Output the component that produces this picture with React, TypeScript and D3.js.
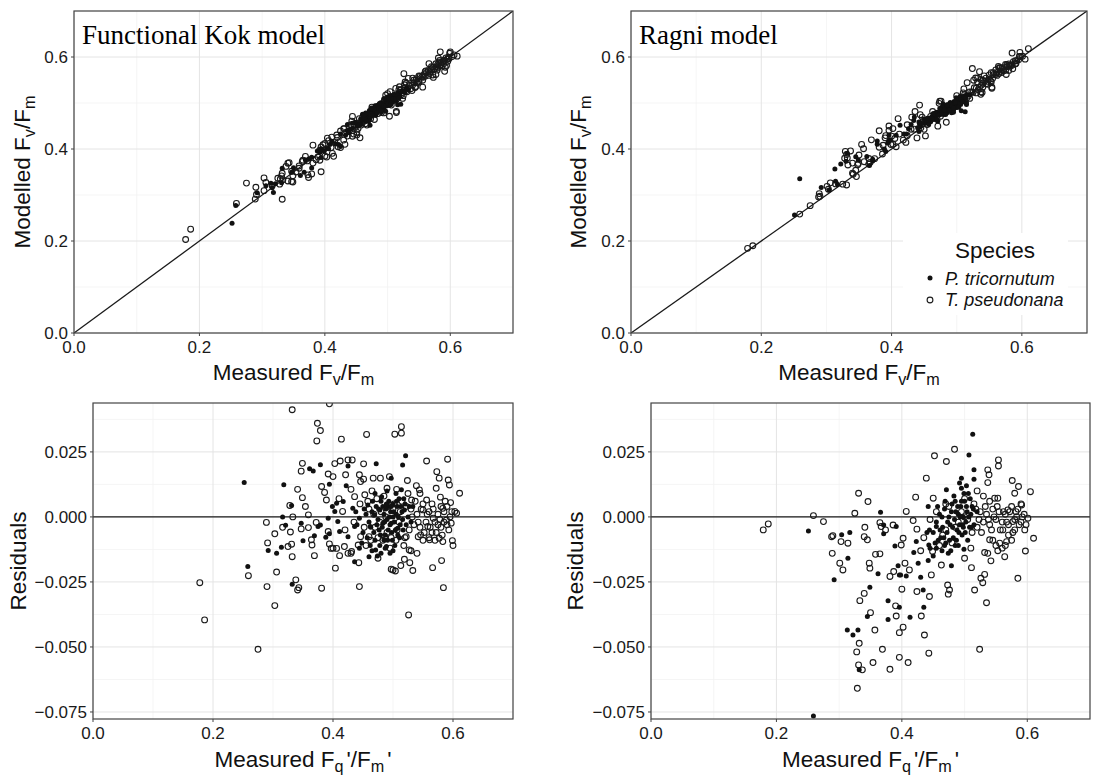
import React from "react";
import * as d3 from "d3";

// ---- Data: [measured Fv/Fm (or Fq'/Fm'), residual (measured - modelled)] ----
const kokPtri: [number, number][] = [
  [0.252,0.0132],[0.258,-0.0191],[0.292,-0.0129],[0.306,-0.014],[0.318,0.0124],[0.316,0.0],[0.314,-0.0117],[0.321,-0.0032],
  [0.331,0.0044],[0.332,-0.0259],[0.347,-0.0024],[0.35,-0.0092],[0.361,0.0185],[0.367,0.0177],[0.369,-0.0072],[0.379,0.0201],
  [0.375,-0.0037],[0.379,-0.0031],[0.394,0.0126],[0.392,-0.0005],[0.388,-0.0078],[0.394,-0.0065],[0.399,0.004],[0.403,0.0021],
  [0.406,0.0053],[0.408,-0.0018],[0.411,-0.0056],[0.417,0.0059],[0.422,0.012],[0.425,0.0196],[0.425,-0.0076],[0.433,0.0033],
  [0.436,-0.0037],[0.436,-0.0172],[0.444,-0.0005],[0.458,0.0046],[0.46,-0.0153],[0.462,-0.0037],[0.472,0.0204],[0.469,0.0008],
  [0.471,-0.0127],[0.477,-0.005],[0.478,0.0027],[0.481,0.0078],[0.483,-0.0024],[0.489,-0.0114],[0.492,0.004],[0.497,0.0149],
  [0.497,-0.0024],[0.5,0.0],[0.508,-0.0044],[0.516,0.02],[0.521,0.0235],[0.514,0.0104],[0.519,0.0027],[0.533,0.004],
  [0.46,-0.002],[0.465,0.002],[0.468,-0.006],[0.47,-0.009],[0.472,0.004],[0.475,-0.001],[0.478,-0.011],[0.48,0.006],
  [0.482,-0.004],[0.485,0.001],[0.487,-0.007],[0.488,0.003],[0.49,-0.001],[0.491,-0.009],[0.493,0.006],[0.495,-0.003],
  [0.496,0.002],[0.498,-0.006],[0.5,0.005],[0.502,-0.002],[0.503,-0.011],[0.505,0.001],[0.507,0.004],[0.508,-0.007],
  [0.51,0.007],[0.512,-0.003],[0.515,0.002],[0.517,-0.005],[0.52,0.005],[0.525,0.0],[0.45,-0.006],[0.455,0.001],
  [0.448,-0.01],[0.44,-0.003],[0.465,-0.013],[0.48,-0.014],[0.47,0.009],[0.49,0.01],[0.5,-0.013],[0.485,-0.009],
  [0.452,0.003],[0.457,-0.008],[0.463,-0.004],[0.466,0.006],[0.473,-0.003],[0.476,0.003],[0.479,-0.007],[0.483,0.004],
  [0.486,-0.002],[0.489,0.005],[0.492,-0.005],[0.494,0.0],[0.497,0.004],[0.499,-0.009],[0.501,0.002],[0.504,-0.005],
  [0.506,0.006],[0.509,0.0],[0.511,-0.008],[0.513,0.004],[0.516,-0.001],[0.518,0.007],[0.522,-0.003],[0.527,0.004],
  [0.53,-0.002],[0.462,-0.011],[0.474,-0.015],[0.487,-0.012],[0.495,-0.014],[0.505,0.009],[0.444,-0.012],[0.438,0.002],
];

const kokTpse: [number, number][] = [
  [0.178,-0.0253],[0.186,-0.0396],[0.275,-0.0509],[0.259,-0.0226],[0.289,-0.0021],[0.291,-0.01],[0.29,-0.0268],[0.303,-0.0065],
  [0.306,-0.0212],[0.303,-0.0341],[0.316,-0.004],[0.325,-0.0114],[0.328,0.0044],[0.329,-0.0058],[0.331,-0.0105],[0.332,-0.0153],
  [0.333,0.0],[0.332,0.0412],[0.338,-0.0242],[0.341,-0.0281],[0.343,-0.0272],[0.341,0.0106],[0.347,0.0176],[0.349,0.0206],
  [0.349,0.0074],[0.347,-0.0046],[0.354,0.004],[0.359,-0.0041],[0.359,0.0008],[0.364,-0.0088],[0.365,-0.0108],[0.369,-0.0149],
  [0.372,-0.0021],[0.373,0.0292],[0.374,0.036],[0.379,0.0332],[0.381,0.0117],[0.381,-0.0274],[0.386,0.0094],[0.389,0.0065],
  [0.392,0.0165],[0.392,-0.0056],[0.394,-0.0104],[0.397,-0.0121],[0.394,0.0435],[0.4,0.0155],[0.403,0.0205],[0.404,-0.0197],
  [0.406,-0.0121],[0.411,-0.0149],[0.412,0.0215],[0.414,0.0299],[0.416,0.0021],[0.419,-0.0114],[0.421,0.0162],[0.425,0.0219],
  [0.43,0.0106],[0.432,0.0219],[0.425,-0.014],[0.431,-0.0133],[0.436,0.0078],[0.443,-0.0176],[0.444,-0.0268],[0.444,0.0162],
  [0.446,0.0136],[0.442,-0.0108],[0.446,-0.0076],[0.451,0.0204],[0.451,0.0145],[0.453,0.0085],[0.456,0.0317],[0.46,-0.0076],
  [0.467,0.0149],[0.475,-0.0159],[0.479,0.0149],[0.486,-0.0076],[0.49,0.011],[0.494,0.0155],[0.497,-0.0201],[0.5,-0.0204],
  [0.504,-0.0208],[0.503,0.0318],[0.506,0.0106],[0.514,0.0347],[0.514,0.0322],[0.513,-0.0187],[0.519,-0.0163],[0.522,-0.0076],
  [0.524,0.014],[0.526,-0.0377],[0.528,-0.0176],[0.527,-0.0127],[0.533,-0.0206],[0.531,0.0065],[0.539,0.012],[0.542,-0.0076],
  [0.546,-0.0069],[0.544,0.0104],[0.55,0.0027],[0.556,0.0215],[0.556,0.0065],[0.558,-0.0037],[0.561,-0.0088],[0.566,-0.0195],
  [0.567,-0.0005],[0.572,0.011],[0.573,0.0174],[0.577,0.0149],[0.579,0.0076],[0.577,-0.0082],[0.581,-0.0168],[0.584,-0.0272],
  [0.583,-0.0095],[0.591,0.0222],[0.592,0.0142],[0.594,0.0123],[0.589,-0.0012],[0.597,-0.0024],[0.599,-0.0091],[0.6,-0.011],
  [0.603,0.0021],[0.606,0.0014],[0.611,0.0091],[0.596,0.0055],[0.583,0.0033],
  [0.46,0.003],[0.47,-0.004],[0.48,0.002],[0.49,-0.006],[0.5,0.003],[0.51,-0.002],[0.52,-0.008],[0.53,0.003],
  [0.535,-0.003],[0.54,0.001],[0.545,-0.004],[0.55,0.005],[0.555,-0.002],[0.56,0.002],[0.565,-0.006],[0.57,-0.002],
  [0.575,0.001],[0.58,-0.004],[0.585,0.002],[0.59,-0.003],[0.595,0.0],[0.545,0.009],[0.55,-0.009],[0.56,-0.008],
  [0.57,-0.009],[0.575,-0.003],[0.58,0.004],[0.565,0.005],[0.525,0.009],[0.515,0.006],[0.505,-0.009],[0.495,-0.012],
  [0.485,0.008],[0.475,-0.008],[0.465,0.01],[0.455,-0.011],[0.445,0.005],[0.435,-0.002],[0.43,-0.014],[0.42,-0.005],
  [0.41,0.007],[0.4,-0.012],[0.53,-0.013],[0.54,-0.014],[0.585,-0.002],[0.59,0.004],
  [0.452,-0.004],[0.458,0.006],[0.463,-0.009],[0.468,0.001],[0.473,0.007],[0.478,-0.002],[0.483,-0.009],[0.488,0.0],
  [0.492,0.004],[0.497,-0.008],[0.502,0.005],[0.507,-0.005],[0.512,0.002],[0.518,-0.011],[0.522,0.004],[0.527,-0.005],
  [0.532,0.0],[0.537,0.006],[0.542,-0.002],[0.547,0.003],[0.552,-0.006],[0.557,0.001],[0.562,-0.004],[0.567,0.003],
  [0.572,-0.006],[0.578,-0.001],[0.582,-0.007],[0.587,0.006],[0.593,-0.005],[0.598,0.002],
];

const ragniPtri: [number, number][] = [
  [0.251,-0.0054],[0.259,-0.0765],[0.292,-0.0242],[0.304,-0.0069],[0.317,-0.006],[0.314,-0.0159],[0.313,-0.0435],[0.322,-0.0454],
  [0.33,-0.0435],[0.332,-0.0588],[0.349,-0.027],[0.345,-0.0383],[0.362,-0.0219],[0.366,0.0018],[0.371,-0.0031],[0.371,-0.0065],
  [0.378,-0.0394],[0.378,-0.0322],[0.389,-0.0112],[0.391,-0.0037],[0.394,-0.0188],[0.396,-0.0223],[0.398,-0.0223],[0.396,-0.0347],
  [0.407,-0.0227],[0.413,-0.0386],[0.419,-0.0137],[0.423,-0.0095],[0.426,-0.0178],[0.43,-0.0232],[0.434,-0.0281],[0.435,-0.0347],
  [0.442,0.004],[0.444,-0.005],[0.443,-0.0108],[0.442,-0.0168],[0.455,-0.0037],[0.471,0.0104],[0.479,-0.0188],[0.492,0.013],
  [0.495,0.0149],[0.499,-0.0124],[0.507,0.0238],[0.513,0.0318],[0.515,0.0181],[0.515,0.0145],
  [0.45,-0.006],[0.455,-0.002],[0.46,0.001],[0.462,-0.008],[0.465,-0.004],[0.468,0.003],[0.47,-0.01],[0.472,-0.006],
  [0.475,0.0],[0.477,-0.003],[0.48,0.005],[0.482,-0.008],[0.484,-0.001],[0.486,0.002],[0.488,-0.005],[0.49,-0.011],
  [0.49,0.001],[0.492,-0.003],[0.494,0.004],[0.496,-0.007],[0.498,0.0],[0.5,0.006],[0.502,-0.002],[0.504,0.002],
  [0.506,0.009],[0.508,-0.004],[0.51,0.001],[0.512,0.004],[0.478,-0.013],[0.468,-0.011],[0.458,-0.009],[0.45,-0.015],
  [0.44,-0.006],[0.445,-0.012],[0.485,0.006],[0.495,0.011],[0.505,-0.009],[0.52,0.002],[0.515,-0.003],
  [0.453,-0.01],[0.457,0.004],[0.461,-0.005],[0.464,0.0],[0.467,-0.008],[0.469,0.006],[0.473,-0.002],[0.476,-0.009],
  [0.479,0.002],[0.481,-0.004],[0.483,0.008],[0.487,-0.009],[0.489,0.004],[0.491,-0.006],[0.493,0.0],[0.497,-0.003],
  [0.499,0.009],[0.501,-0.006],[0.503,0.004],[0.507,0.0],[0.509,0.007],[0.511,-0.004],[0.514,0.003],[0.474,-0.014],
  [0.464,-0.013],[0.455,-0.012],[0.485,-0.011],[0.495,0.006],[0.503,0.012],[0.498,-0.004],
];

const ragniTpse: [number, number][] = [
  [0.179,-0.005],[0.187,-0.0027],[0.259,0.0005],[0.275,-0.0018],[0.288,-0.0076],[0.29,-0.0072],[0.289,-0.014],[0.301,-0.0178],
  [0.306,-0.0204],[0.303,-0.0095],[0.314,-0.0101],[0.325,0.0014],[0.331,0.0091],[0.332,-0.0486],[0.328,-0.0519],[0.331,-0.0569],
  [0.337,-0.0588],[0.329,-0.0659],[0.333,-0.0322],[0.346,0.0059],[0.341,-0.004],[0.34,-0.0076],[0.345,-0.0088],[0.348,-0.0178],
  [0.349,-0.0197],[0.34,-0.0294],[0.35,-0.0368],[0.354,-0.056],[0.357,-0.0435],[0.358,-0.0144],[0.365,-0.0142],[0.365,-0.0022],
  [0.367,-0.0037],[0.374,-0.005],[0.369,-0.0509],[0.381,-0.0586],[0.381,-0.0229],[0.387,-0.021],[0.386,-0.0031],[0.391,-0.0381],
  [0.39,-0.0342],[0.396,-0.0445],[0.396,-0.054],[0.402,-0.0424],[0.4,-0.0278],[0.402,-0.0082],[0.399,-0.0108],[0.405,-0.0178],
  [0.407,0.0021],[0.41,-0.056],[0.412,-0.0204],[0.418,-0.0014],[0.422,0.0076],[0.424,-0.0047],[0.424,-0.0287],[0.431,-0.0381],
  [0.436,-0.0454],[0.439,0.0149],[0.443,-0.0524],[0.444,-0.0306],[0.447,-0.0223],[0.452,0.0235],[0.45,0.0072],[0.449,-0.0133],
  [0.463,-0.0185],[0.471,0.0213],[0.473,-0.0262],[0.474,-0.0297],[0.476,-0.0281],[0.484,0.026],[0.5,-0.0159],[0.511,-0.0195],
  [0.516,-0.0281],[0.524,-0.0509],[0.526,-0.0236],[0.529,-0.0253],[0.532,-0.0221],[0.535,-0.033],[0.532,-0.0137],[0.537,-0.014],
  [0.537,0.0181],[0.539,0.0162],[0.537,0.0132],[0.542,-0.0169],[0.54,-0.0088],[0.554,0.0219],[0.554,0.0196],[0.553,0.0072],
  [0.556,-0.0101],[0.564,-0.0153],[0.567,-0.0095],[0.576,0.014],[0.58,0.0091],[0.586,0.0117],[0.585,-0.0236],[0.591,0.0046],
  [0.597,-0.0131],[0.605,0.0097],[0.61,-0.0082],[0.601,-0.0005],[0.596,-0.005],[0.577,-0.0018],[0.583,0.0001],[0.569,0.0027],
  [0.561,-0.005],[0.548,0.0072],
  [0.455,0.002],[0.465,-0.007],[0.475,0.004],[0.485,-0.004],[0.495,0.002],[0.505,-0.001],[0.515,0.005],[0.52,-0.004],
  [0.525,0.002],[0.53,-0.002],[0.535,0.001],[0.54,-0.003],[0.545,0.003],[0.55,-0.001],[0.555,0.002],[0.56,-0.002],
  [0.565,0.001],[0.57,-0.003],[0.575,0.004],[0.58,-0.001],[0.585,0.003],[0.59,-0.002],[0.595,0.001],[0.55,-0.011],
  [0.56,-0.012],[0.545,-0.009],[0.57,-0.007],[0.58,-0.005],[0.59,0.005],[0.53,0.008],[0.52,0.01],[0.51,-0.012],
  [0.5,0.007],[0.48,-0.01],[0.47,0.005],[0.46,-0.011],[0.445,-0.001],[0.435,-0.008],[0.43,-0.013],
  [0.5,0.0],[0.512,-0.006],[0.518,0.003],[0.523,-0.001],[0.527,-0.006],[0.533,0.004],[0.538,-0.001],[0.543,-0.005],
  [0.547,0.0],[0.552,0.004],[0.557,-0.005],[0.562,0.002],[0.567,-0.002],[0.572,0.002],[0.577,-0.006],[0.582,0.002],
  [0.587,-0.003],[0.592,0.0],[0.598,-0.003],[0.575,-0.009],[0.565,-0.011],[0.553,-0.013],[0.54,0.006],[0.49,-0.002],
  [0.47,-0.005],
];

const fvTicks = [0, 0.2, 0.4, 0.6];
const fvMinor = [0.1, 0.3, 0.5, 0.7];
const residTicks = [-0.075, -0.05, -0.025, 0, 0.025];
const residMinor = [-0.0625, -0.0375, -0.0125, 0.0125, 0.0375];
const speciesLabels = ["P. tricornutum", "T. pseudonana"];
const panelTitles = ["Functional Kok model", "Ragni model"];

const SANS = "'Liberation Sans', Arial, Helvetica, sans-serif";
const SERIF = "'Liberation Serif', 'Times New Roman', serif";

type Seg = { t: string; sub?: boolean; dx?: number };

function RichText({ x, y, segs, size, rotate, anchor = "middle" }: { x: number; y: number; segs: Seg[]; size: number; rotate?: boolean; anchor?: string }) {
  const subSize = size * 0.72;
  const shift = size * 0.24;
  let cur = 0;
  const spans = segs.map((s, i) => {
    const target = s.sub ? shift : 0;
    const dy = target - cur;
    cur = target;
    return (
      <tspan key={i} dy={dy} dx={s.dx || 0} fontSize={s.sub ? subSize : size}>{s.t}</tspan>
    );
  });
  return (
    <text
      x={rotate ? 0 : x}
      y={rotate ? 0 : y}
      transform={rotate ? `translate(${x},${y}) rotate(-90)` : undefined}
      textAnchor={anchor}
      fontFamily={SANS}
      fontSize={size}
      fill="#111"
    >
      {spans}
    </text>
  );
}

type PanelProps = {
  id: string;
  left: number; right: number; top: number; bottom: number;
  kind: "fit" | "resid";
  pData: [number, number][];
  tData: [number, number][];
  title?: string;
  legend?: boolean;
  yTitleX: number;
};

const fmtFv = d3.format(".1f");
const fmtRes = (v: number) => d3.format(".3f")(v).replace("-", "\u2212");

const R_OPEN = 2.9;
const R_FILL = 2.5;

function Panel(p: PanelProps) {
  const x = d3.scaleLinear().domain([0, 0.7]).range([p.left, p.right]);
  const y = p.kind === "fit"
    ? d3.scaleLinear().domain([0, 0.7]).range([p.bottom, p.top])
    : d3.scaleLinear().domain([-0.0777, 0.0438]).range([p.bottom, p.top]);
  const yTicks = p.kind === "fit" ? fvTicks : residTicks;
  const yMinor = p.kind === "fit" ? fvMinor : residMinor;
  const yFmt = p.kind === "fit" ? fmtFv : fmtRes;
  const pt = (d: [number, number]) => p.kind === "fit" ? [x(d[0]), y(d[0] - d[1])] : [x(d[0]), y(d[1])];
  const cx = (p.left + p.right) / 2;
  const cy = (p.top + p.bottom) / 2;
  const line = d3.line<[number, number]>().x(d => x(d[0])).y(d => y(d[1]));
  const refPts: [number, number][] = p.kind === "fit" ? [[0, 0], [0.7, 0.7]] : [[0, 0], [0.7, 0]];
  const xTitle: Seg[] = p.kind === "fit"
    ? [{ t: "Measured F" }, { t: "v", sub: true }, { t: "/F" }, { t: "m", sub: true }]
    : [{ t: "Measured F" }, { t: "q", sub: true }, { t: "'/F", dx: 3 }, { t: "m", sub: true }, { t: "'", dx: 3 }];
  const yTitle: Seg[] = p.kind === "fit"
    ? [{ t: "Modelled F" }, { t: "v", sub: true }, { t: "/F" }, { t: "m", sub: true }]
    : [{ t: "Residuals" }];
  return (
    <g>
      <defs>
        <clipPath id={p.id}>
          <rect x={p.left} y={p.top} width={p.right - p.left} height={p.bottom - p.top} />
        </clipPath>
      </defs>
      <rect x={p.left} y={p.top} width={p.right - p.left} height={p.bottom - p.top} fill="#fff" />
      {fvMinor.map(v => <line key={"xm" + v} x1={x(v)} x2={x(v)} y1={p.top} y2={p.bottom} stroke="#f2f2f2" strokeWidth={0.8} />)}
      {yMinor.map(v => <line key={"ym" + v} y1={y(v)} y2={y(v)} x1={p.left} x2={p.right} stroke="#f2f2f2" strokeWidth={0.8} />)}
      {fvTicks.map(v => <line key={"xM" + v} x1={x(v)} x2={x(v)} y1={p.top} y2={p.bottom} stroke="#e4e4e4" strokeWidth={1} />)}
      {yTicks.map(v => <line key={"yM" + v} y1={y(v)} y2={y(v)} x1={p.left} x2={p.right} stroke="#e4e4e4" strokeWidth={1} />)}
      {p.legend && <rect x={903} y={233} width={165} height={82} fill="#fff" />}
      <g clipPath={`url(#${p.id})`}>
        <path d={line(refPts) || ""} stroke="#1a1a1a" strokeWidth={1.3} fill="none" />
        {p.tData.map((d, i) => {
          const [a, b] = pt(d);
          return <circle key={"t" + i} cx={a} cy={b} r={R_OPEN} fill="none" stroke="#1a1a1a" strokeWidth={1.1} />;
        })}
        {p.pData.map((d, i) => {
          const [a, b] = pt(d);
          return <circle key={"p" + i} cx={a} cy={b} r={R_FILL} fill="#111" />;
        })}
      </g>
      <rect x={p.left} y={p.top} width={p.right - p.left} height={p.bottom - p.top} fill="none" stroke="#444" strokeWidth={1.2} />
      {fvTicks.map(v => (
        <g key={"xt" + v}>
          <line x1={x(v)} x2={x(v)} y1={p.bottom} y2={p.bottom + 3} stroke="#444" />
          <text x={x(v)} y={p.bottom + 19.5} textAnchor="middle" fontFamily={SANS} fontSize={17} fill="#1a1a1a">{fmtFv(v)}</text>
        </g>
      ))}
      {yTicks.map(v => (
        <g key={"yt" + v}>
          <line x1={p.left - 3} x2={p.left} y1={y(v)} y2={y(v)} stroke="#444" />
          <text x={p.left - 6} y={y(v) + 6} textAnchor="end" fontFamily={SANS} fontSize={17} fill="#1a1a1a">{yFmt(v)}</text>
        </g>
      ))}
      <RichText x={cx} y={p.bottom + (p.kind === "fit" ? 47 : 48)} segs={xTitle} size={22.5} />
      <RichText x={p.yTitleX} y={cy} segs={yTitle} size={22.5} rotate />
      {p.title && (
        <text x={p.left + 8} y={p.top + 33} fontFamily={SERIF} fontSize={27} fill="#000">{p.title}</text>
      )}
      {p.legend && (
        <g fontFamily={SANS}>
          <text x={995} y={258} textAnchor="middle" fontSize={22.5} fill="#111">Species</text>
          <circle cx={930} cy={278} r={R_FILL} fill="#111" />
          <text x={945} y={285} fontSize={18} fontStyle="italic" fill="#111">{speciesLabels[0]}</text>
          <circle cx={930} cy={300} r={R_OPEN} fill="none" stroke="#1a1a1a" strokeWidth={1.1} />
          <text x={945} y={306} fontSize={18} fontStyle="italic" fill="#111">{speciesLabels[1]}</text>
        </g>
      )}
    </g>
  );
}

export default function App() {
  return (
    <svg width={1096} height={776} style={{ position: "absolute", left: 0, top: 0, display: "block", background: "#fff" }}>
      <rect x={0} y={0} width={1096} height={776} fill="#fff" />
      <Panel id="c1" left={74} right={513} top={11} bottom={333} kind="fit" pData={kokPtri} tData={kokTpse} title={panelTitles[0]} yTitleX={30} />
      <Panel id="c2" left={631} right={1087} top={11} bottom={333} kind="fit" pData={ragniPtri} tData={ragniTpse} title={panelTitles[1]} legend yTitleX={586} />
      <Panel id="c3" left={93} right={513} top={403} bottom={719} kind="resid" pData={kokPtri} tData={kokTpse} yTitleX={26} />
      <Panel id="c4" left={651} right={1090} top={403} bottom={719} kind="resid" pData={ragniPtri} tData={ragniTpse} yTitleX={583} />
    </svg>
  );
}
